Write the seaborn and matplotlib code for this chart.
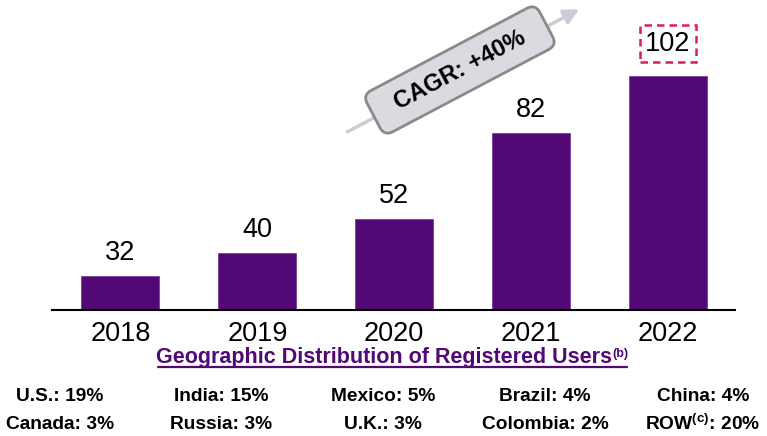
import matplotlib
matplotlib.use('Agg')
import matplotlib.pyplot as plt
import seaborn as sns
import pandas as pd

# chart data
years = ['2018', '2019', '2020', '2021', '2022']
users = [32, 40, 52, 82, 102]
cagr_label = 'CAGR: +40%'

geo_row1 = ['U.S.: 19%', 'India: 15%', 'Mexico: 5%', 'Brazil: 4%', 'China: 4%']
geo_row2 = ['Canada: 3%', 'Russia: 3%', 'U.K.: 3%', 'Colombia: 2%', r'ROW$^{\mathbf{(c)}}$: 20%']

purple = '#520875'

sns.set_style('white')
plt.rcParams['font.family'] = ['Liberation Sans', 'DejaVu Sans']
plt.rcParams['text.color'] = 'black'
plt.rcParams['xtick.color'] = 'black'
plt.rcParams['mathtext.fontset'] = 'custom'
plt.rcParams['mathtext.rm'] = 'Liberation Sans'
plt.rcParams['mathtext.bf'] = 'Liberation Sans:bold'

df = pd.DataFrame({'year': years, 'users': users})

fig = plt.figure(figsize=(7.67, 4.36), dpi=100)
ax = fig.add_axes([0.0678, 0.289, 0.8905, 0.711])

sns.barplot(data=df, x='year', y='users', color=purple, width=0.57,
            edgecolor='#7b3f9c', linewidth=0.6, saturation=1, ax=ax)

ax.set_xlim(-0.5, 4.49)
ax.set_ylim(20.1, 128.6)
ax.set_xlabel('')
ax.set_ylabel('')
ax.set_yticks([])
for s in ['top', 'right', 'left']:
    ax.spines[s].set_visible(False)
ax.spines['bottom'].set_color('black')
ax.spines['bottom'].set_linewidth(1.5)
ax.tick_params(axis='x', length=0, pad=8, labelsize=19.5, labelcolor='black')

# value labels
for i, v in enumerate(users):
    if i == len(users) - 1:
        ax.text(i, v + 6.8, str(v), ha='center', va='bottom', fontsize=19.5,
                clip_on=False,
                bbox=dict(boxstyle='square,pad=0.2', fc='none', ec='#d81b6a',
                          ls=(0, (3, 2)), lw=1.8))
    else:
        ax.text(i, v + 3.5, str(v), ha='center', va='bottom', fontsize=19.5,
                clip_on=False)

# CAGR arrow and label
ax.annotate('', xy=(3.37, 125.8), xytext=(1.64, 82.0),
            arrowprops=dict(arrowstyle='-|>,head_length=0.9,head_width=0.45',
                            color='#cdccd6', lw=2.5), annotation_clip=False)
ax.text(2.48, 104.1, '  ' + cagr_label + '  ', rotation=27.8,
        rotation_mode='anchor', ha='center', va='center', fontsize=17,
        fontweight='bold', clip_on=False,
        bbox=dict(boxstyle='round,pad=0.5,rounding_size=0.4', fc='#dadae0',
                  ec='#8a8a8a', lw=2))

# geographic distribution
W, H = 767, 436
t = fig.text(384 / W, 1 - 357 / H, 'Geographic Distribution of Registered Users',
             ha='center', va='center', fontsize=15.5, fontweight='bold', color=purple)
ax.annotate('(b)', xy=(1, 0.95), xycoords=t, ha='left', va='top', fontsize=9,
            fontweight='bold', color=purple)
fig.add_artist(plt.Line2D([158 / W, 627 / W], [1 - 367 / H, 1 - 367 / H],
                          color=purple, lw=1.6))

col_x = [60, 221, 383, 545, 703]
for cx, a, b in zip(col_x, geo_row1, geo_row2):
    fig.text(cx / W, 1 - 396 / H, a, ha='center', va='center', fontsize=13.8,
             fontweight='bold')
    fig.text(cx / W, 1 - 424 / H, b, ha='center', va='center', fontsize=13.8,
             fontweight='bold')

fig.savefig('out.png', dpi=100)
